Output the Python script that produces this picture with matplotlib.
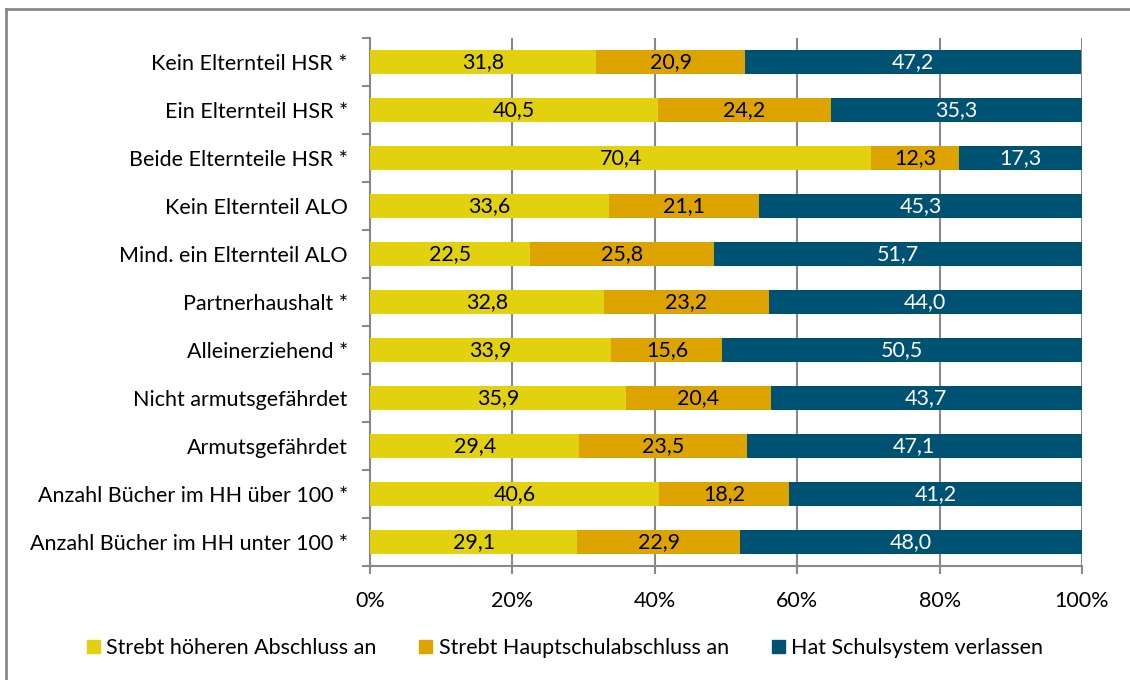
import matplotlib
matplotlib.use("Agg")
import matplotlib.pyplot as plt
from matplotlib.patches import Rectangle
from matplotlib.lines import Line2D
import numpy as np

plt.rcParams['font.family'] = ['Lato', 'DejaVu Sans']

categories = [
    "Kein Elternteil HSR *",
    "Ein Elternteil HSR *",
    "Beide Elternteile HSR *",
    "Kein Elternteil ALO",
    "Mind. ein Elternteil ALO",
    "Partnerhaushalt *",
    "Alleinerziehend *",
    "Nicht armutsgefährdet",
    "Armutsgefährdet",
    "Anzahl Bücher im HH über 100 *",
    "Anzahl Bücher im HH unter 100 *",
]
hoeher = [31.8, 40.5, 70.4, 33.6, 22.5, 32.8, 33.9, 35.9, 29.4, 40.6, 29.1]
haupt = [20.9, 24.2, 12.3, 21.1, 25.8, 23.2, 15.6, 20.4, 23.5, 18.2, 22.9]
verlassen = [47.2, 35.3, 17.3, 45.3, 51.7, 44.0, 50.5, 43.7, 47.1, 41.2, 48.0]
series_names = ["Strebt höheren Abschluss an", "Strebt Hauptschulabschluss an", "Hat Schulsystem verlassen"]
colors = ["#E2D10F", "#DDA400", "#005273"]
text_colors = ["black", "black", "white"]
xticks = [0, 20, 40, 60, 80, 100]
xticklabels = ["0%", "20%", "40%", "60%", "80%", "100%"]

FS = 15.5

fig = plt.figure(figsize=(11.3, 6.8), dpi=100)
ax = fig.add_axes([370/1130, 1-566/680, (1082-370)/1130, (566-38)/680])

y = np.arange(len(categories))
left = np.zeros(len(categories))
for vals, name, col, tc in zip([hoeher, haupt, verlassen], series_names, colors, text_colors):
    vals = np.array(vals)
    ax.barh(y, vals, left=left, height=0.5, color=col, label=name, zorder=3)
    for yi, l, v in zip(y, left, vals):
        ax.text(l + v/2, yi, f"{v:.1f}".replace(".", ","), ha="center", va="center",
                color=tc, fontsize=FS, zorder=4)
    left += vals

ax.set_xlim(0, 100)
ax.set_ylim(len(categories) - 0.5, -0.5)
ax.set_xticks(xticks)
ax.set_xticklabels(xticklabels, fontsize=FS)
ax.set_yticks(y)
ax.set_yticklabels(categories, fontsize=FS)
ax.tick_params(axis="y", length=0, pad=16)
ax.tick_params(axis="x", length=6, color="#888888", width=1.5, pad=12)
ax.set_yticks(np.arange(-0.5, len(categories) + 0.5, 1), minor=True)
ax.tick_params(axis="y", which="minor", length=6, color="#888888", width=1.5)
ax.xaxis.grid(True, color="#888888", linewidth=1.5, zorder=0)
ax.set_axisbelow(True)
for s in ["top", "right"]:
    ax.spines[s].set_visible(False)
for s in ["left", "bottom"]:
    ax.spines[s].set_color("#888888")
    ax.spines[s].set_linewidth(1.5)

handles = [Rectangle((0, 0), 1, 1, color=c) for c in colors]
fig.legend(handles, series_names, loc="center", bbox_to_anchor=(0.5, 1-648/680),
           ncol=3, frameon=False, fontsize=FS, handlelength=0.6, handleheight=0.6,
           handletextpad=0.3, columnspacing=2.0)

# outer border (only top and left visible in the reference)
fig.add_artist(Line2D([6/1130, 6/1130], [0, 1-9/680], transform=fig.transFigure,
                      color="#888888", linewidth=2))
fig.add_artist(Line2D([6/1130, 1], [1-9/680, 1-9/680], transform=fig.transFigure,
                      color="#888888", linewidth=2))

fig.savefig("out.png", dpi=100)
